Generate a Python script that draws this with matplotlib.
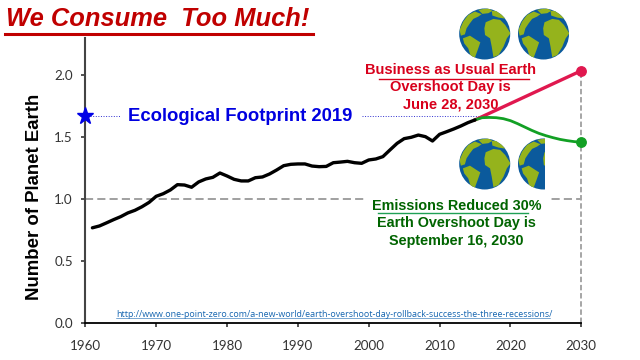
# -*- coding: utf-8 -*-

import numpy as np
from matplotlib import pyplot as plt
from matplotlib.patches import Circle, Polygon, Rectangle

years = list(range(1961, 2016))
footprint = [0.77, 0.785, 0.81, 0.836, 0.86, 0.89, 0.911, 0.94, 0.975, 1.024,
             1.045, 1.075, 1.118, 1.115, 1.097, 1.14, 1.164, 1.177, 1.212, 1.188,
             1.161, 1.148, 1.148, 1.174, 1.18, 1.204, 1.236, 1.271, 1.282, 1.285,
             1.285, 1.268, 1.263, 1.265, 1.295, 1.30, 1.306, 1.295, 1.29, 1.317,
             1.325, 1.344, 1.398, 1.451, 1.489, 1.50, 1.518, 1.505, 1.47, 1.524,
             1.545, 1.567, 1.591, 1.618, 1.64]

bau_years = [2015, 2030]
bau = [1.64, 2.037]

green_years = list(range(2015, 2031))
reduced = [1.64, 1.658, 1.66, 1.658, 1.65, 1.634, 1.61, 1.583, 1.556, 1.532,
           1.513, 1.497, 1.483, 1.473, 1.465, 1.46]

xticks = [1960, 1970, 1980, 1990, 2000, 2010, 2020, 2030]
yticks = [0.0, 0.5, 1.0, 1.5, 2.0]
star_value = 1.669

LAND = '#95b31c'
SEA = '#0b5a9c'
SANS = 'Liberation Sans'

# globe outlines, traced on a 152 px wide disc centred at (89, 87)
land_shapes = [
    [(14, 75), (25, 50), (40, 30), (60, 20), (80, 28), (70, 35), (55, 42), (45, 55), (35, 70), (30, 88), (18, 92)],
    [(70, 15), (100, 10), (112, 18), (100, 25), (82, 27)],
    [(24, 100), (45, 92), (65, 105), (76, 112), (68, 135), (58, 162), (47, 152), (40, 130), (28, 115)],
    [(88, 70), (92, 52), (115, 42), (135, 45), (150, 60), (166, 85), (155, 100), (145, 125), (130, 150),
     (115, 156), (110, 125), (105, 100), (90, 90)],
    [(110, 18), (130, 18), (155, 42), (130, 38), (112, 32)],
]


def draw_globe(ax, cx, cy, r, clip_x=None):
    ax.add_patch(Circle((cx, cy), r, fc=SEA, ec='none'))
    clip = Circle((cx, cy), r, transform=ax.transData)
    for shape in land_shapes:
        pts = (np.array(shape) - [89, 87])/76.*r + [cx, cy]
        p = Polygon(pts, closed=True, fc=LAND, ec='none')
        ax.add_patch(p)
        p.set_clip_path(clip)
    if clip_x is not None:
        ax.add_patch(Rectangle((clip_x, cy-r-1), cx+r+2-clip_x, 2*r+2, fc='white', ec='none'))


fig = plt.figure(figsize=(6.4, 3.6), dpi=100)

# pictures go under the chart, pasted-on text over it
under = fig.add_axes([0, 0, 1, 1], zorder=1)
under.set_xlim(0, 640)
under.set_ylim(360, 0)
under.axis('off')

draw_globe(under, 484.7, 34, 25.5)
draw_globe(under, 543.5, 34, 25.5)
draw_globe(under, 484.7, 164, 25.5)
draw_globe(under, 543.5, 164, 25.5, clip_x=544.6)

ax = fig.add_axes([85.3/640, 36.7/360, 496/640, 285.6/360], zorder=2)
ax.patch.set_alpha(0)

ax.plot(years, footprint, color='black', lw=2.4, solid_capstyle='round', zorder=4)
ax.plot(bau_years, bau, color='#e0184f', lw=2.4, zorder=3)
ax.plot(green_years, reduced, color='#12a024', lw=2, zorder=3)
ax.plot(2030, bau[1], 'o', color='#e0184f', ms=6.8, clip_on=False, zorder=5)
ax.plot(2030, reduced[-1], 'o', color='#12a024', ms=6.8, clip_on=False, zorder=5)

ax.axhline(1.0, color='#999999', lw=1.3, dashes=(4.5, 2.3), zorder=1)
ax.plot([2030, 2030], [0, bau[1]], color='#a6a6a6', lw=1.4, dashes=(2.8, 1.4), clip_on=False, zorder=1)

ax.plot([1960, 1965], [star_value, star_value], color='#3030d0', lw=0.7, ls=':', zorder=2)
ax.plot([1999, 2017], [star_value, star_value], color='#3030d0', lw=0.7, ls=':', zorder=2)
ax.plot(1960, star_value, '*', color='#0000e6', ms=12.5, clip_on=False, zorder=6)

ax.set_xlim(1960, 2030)
ax.set_ylim(0, 2.303)
ax.set_xticks(xticks)
ax.set_yticks(yticks)
ax.set_yticklabels(['%.1f' % v for v in yticks])
ax.tick_params(axis='both', length=3, width=1.2, color='#333333', labelcolor='#333333',
               labelsize=9.6, pad=6)
ax.tick_params(axis='x', pad=9)
for lab in ax.get_xticklabels() + ax.get_yticklabels():
    lab.set_family('Lato')
ax.spines['top'].set_visible(False)
ax.spines['right'].set_visible(False)
ax.spines['left'].set_color('#444444')
ax.spines['left'].set_linewidth(1.5)
ax.spines['bottom'].set_linewidth(1.3)
ax.set_ylabel('Number of Planet Earth', family=SANS, fontweight='bold', fontsize=13.4)
ax.yaxis.set_label_coords(-0.086, 0.442)

ov = fig.add_axes([0, 0, 1, 1], zorder=3)
ov.set_xlim(0, 640)
ov.set_ylim(360, 0)
ov.axis('off')

ov.add_patch(Rectangle((365, 190), 185, 24, fc='white', ec='none'))

ov.text(6, 19, 'We Consume  Too Much!', family=SANS, style='italic', fontweight='bold',
        fontsize=18.4, color='#c00000', va='center', ha='left')
ov.plot([5, 313], [33.5, 33.5], color='#c00000', lw=2.2)

ov.text(240, 116.5, 'Ecological Footprint 2019', family=SANS, fontweight='bold', fontsize=13.3,
        color='#0000e0', ha='center', va='center')

red_lines = ['Business as Usual Earth', 'Overshoot Day is', 'June 28, 2030']
for t, y in zip(red_lines, [69.5, 87, 104.5]):
    ov.text(450.5, y, t, family=SANS, fontweight='bold', fontsize=10.5, color='#d8001c',
            ha='center', va='center')
ov.plot([379, 529], [78.7, 78.7], color='#d8001c', lw=1)

green_lines = ['Emissions Reduced 30%', 'Earth Overshoot Day is', 'September 16, 2030']
for t, y in zip(green_lines, [205.5, 223, 240.5]):
    ov.text(456.7, y, t, family=SANS, fontweight='bold', fontsize=10.4, color='#006400',
            ha='center', va='center')
ov.plot([378, 528], [213.3, 213.3], color='#1fa055', lw=1)

ov.text(116, 314.5, 'http://www.one-point-zero.com/a-new-world/earth-overshoot-day-rollback-success-the-three-recessions/',
        family='Open Sans', fontsize=6.4, color='#1565b0', ha='left', va='center')
ov.plot([116, 550], [318, 318], color='#1565b0', lw=0.4)

fig.savefig('out.png', dpi=100)
